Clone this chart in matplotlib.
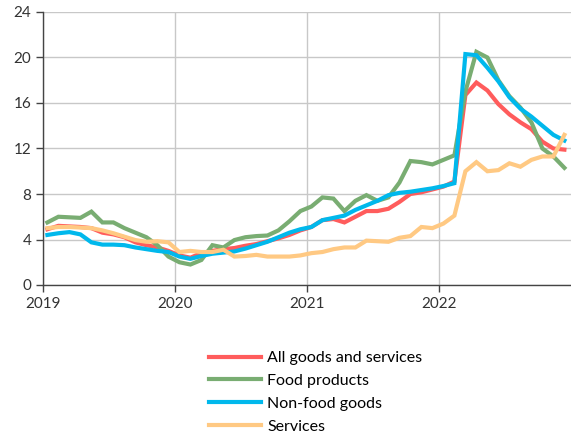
import numpy as np
import matplotlib
matplotlib.use("Agg")
from matplotlib import pyplot as plt

# monthly year-on-year inflation, Jan 2019 - Dec 2022 (%)
years = [2019, 2020, 2021, 2022]

all_goods = [4.9, 5.2, 5.15, 5.1, 5.0, 4.6, 4.45, 4.2, 3.75, 3.5, 3.3, 3.0,
             2.6, 2.4, 2.8, 3.0, 3.15, 3.25, 3.45, 3.6, 3.85, 4.1, 4.4, 4.8,
             5.1, 5.7, 5.8, 5.5, 6.0, 6.5, 6.5, 6.7, 7.3, 8.0, 8.15, 8.4,
             8.65, 9.1, 16.7, 17.8, 17.1, 15.9, 15.0, 14.3, 13.7, 12.6, 12.0, 11.9]
food = [5.5, 6.0, 5.95, 5.9, 6.45, 5.5, 5.5, 5.0, 4.6, 4.2, 3.5, 2.5,
        2.0, 1.8, 2.2, 3.5, 3.3, 3.95, 4.2, 4.3, 4.35, 4.8, 5.6, 6.5,
        6.9, 7.7, 7.6, 6.5, 7.4, 7.9, 7.4, 7.7, 9.0, 10.9, 10.8, 10.6,
        11.0, 11.4, 17.0, 20.5, 20.0, 18.0, 16.6, 15.6, 14.3, 12.0, 11.3, 10.3]
non_food = [4.4, 4.55, 4.65, 4.45, 3.75, 3.55, 3.55, 3.5, 3.3, 3.15, 3.0, 2.9,
            2.5, 2.3, 2.55, 2.75, 2.85, 2.95, 3.2, 3.5, 3.8, 4.2, 4.6, 4.9,
            5.1, 5.7, 5.9, 6.1, 6.6, 7.0, 7.4, 7.9, 8.1, 8.2, 8.35, 8.5,
            8.7, 8.95, 20.3, 20.2, 19.1, 17.9, 16.5, 15.5, 14.8, 14.0, 13.2, 12.7]
services = [5.0, 5.1, 5.1, 5.05, 5.0, 4.8, 4.55, 4.25, 3.95, 3.8, 3.85, 3.75,
            2.9, 3.0, 2.9, 2.9, 3.1, 2.5, 2.55, 2.65, 2.5, 2.5, 2.5, 2.6,
            2.8, 2.9, 3.15, 3.3, 3.3, 3.9, 3.85, 3.8, 4.15, 4.3, 5.1, 5.0,
            5.4, 6.1, 10.0, 10.8, 10.0, 10.1, 10.7, 10.4, 11.0, 11.3, 11.3, 13.2]

series = [
    ("All goods and services", all_goods, "#ff5c5c"),
    ("Food products", food, "#79ad72"),
    ("Non-food goods", non_food, "#00b8ec"),
    ("Services", services, "#ffc983"),
]

plt.rcParams["font.family"] = ["Lato", "DejaVu Sans"]

fig = plt.figure(figsize=(5.71, 4.38), dpi=100)
ax = fig.add_axes([43 / 571, 153 / 438, 528 / 571, 273 / 438])

months = np.arange(len(all_goods)) + 0.4
for name, vals, col in series:
    ax.plot(months, vals, color=col, lw=3, label=name, solid_joinstyle="miter")

ax.set_xlim(0, 48)
ax.set_ylim(0, 24)
ax.set_yticks(np.arange(0, 25, 4))
ax.set_xticks([12 * i for i in range(len(years))])
ax.set_xticklabels([str(y) for y in years])

ax.grid(True, color="#c8c8c8", lw=1)
ax.set_axisbelow(True)
for s in ("top", "right"):
    ax.spines[s].set_visible(False)
for s in ("left", "bottom"):
    ax.spines[s].set_color("#444444")
    ax.spines[s].set_linewidth(1)
ax.tick_params(colors="#444444", length=5, width=1, labelsize=11, labelcolor="#333333")

fig.legend(loc="upper left", bbox_to_anchor=(209 / 571, 1 - 351 / 438),
           frameon=False, fontsize=11.5, handlelength=3.25, handletextpad=0.4,
           labelspacing=0.54, borderpad=0, borderaxespad=0)

fig.savefig("out.png", dpi=100)
